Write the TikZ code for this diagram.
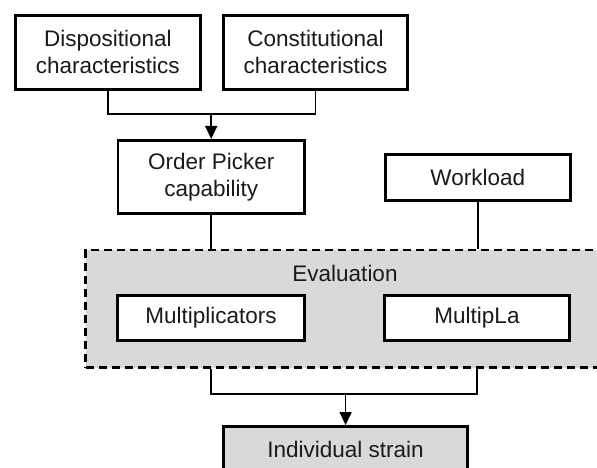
\documentclass[tikz,border=0pt]{standalone}
\usepackage{fontspec}
\setmainfont{Liberation Sans}
\usetikzlibrary{arrows.meta}
\definecolor{boxgrey}{HTML}{D9D9D9}
\definecolor{txt}{HTML}{1A1A1A}
\tikzset{
  box/.style={draw=black, line width=2.8pt, fill=white, align=center, inner sep=0pt,
    text=txt, font=\fontsize{22.5}{27}\selectfont},
  greybox/.style={box, fill=boxgrey},
  evalbox/.style={draw=black, line width=2.4pt, dash pattern=on 8pt off 5pt, fill=boxgrey, inner sep=0pt},
  conn/.style={draw=black, line width=1.6pt},
  arr/.style={conn, -{Triangle[length=13pt,width=12pt]}},
  lbl/.style={text=txt, font=\fontsize{22.5}{27}\selectfont, inner sep=0pt}
}
\begin{document}
\begin{tikzpicture}[x=1pt,y=-1pt]
\useasboundingbox (0,0) rectangle (597,468);
\clip (0,0) rectangle (597,468);
\fill[white] (0,0) rectangle (597,468);
% evaluation container (its right side runs past the picture's edge)
\node[evalbox, minimum width=526.5pt, minimum height=117.5pt] (eval) at (348.75,308.75) {};
\node[lbl] (evallabel) at (345,273) {Evaluation};
% boxes
\node[box, minimum width=184.7pt, minimum height=73.7pt] (disp) at (107.85,52.35) {Dispositional\\characteristics};
\node[box, minimum width=184.6pt, minimum height=73.7pt] (const) at (315.5,52.35) {Constitutional\\characteristics};
\node[box, minimum width=186.3pt, minimum height=73.3pt] (op) at (211.2,177) {Order Picker\\capability};
\node[box, minimum width=184.7pt, minimum height=45.8pt] (work) at (477.8,177.4) {Workload};
\node[box, minimum width=187pt, minimum height=45pt] (mult) at (211,318) {Multiplicators};
\node[box, minimum width=185pt, minimum height=45pt] (mla) at (477,318) {MultipLa};
\node[greybox, minimum width=243.7pt, minimum height=45.5pt] (indiv) at (345.6,449.2) {Individual strain};
% junction coordinates
\coordinate (j1) at (211.2,114.3);
\coordinate (j2) at (345.6,394);
% top connectors
\draw[conn] (disp.south) |- (const.south |- j1) -- (const.south);
\draw[arr] (j1) -- (op.north);
% into evaluation
\draw[conn] (op.south) -- (op.south |- eval.north);
\draw[conn] (work.south) -- (work.south |- eval.north);
% out of evaluation
\draw[conn] (mult.south |- eval.south) |- (mla.south |- j2) -- (mla.south |- eval.south);
\draw[arr] (j2) -- (indiv.north);
\end{tikzpicture}
\end{document}
